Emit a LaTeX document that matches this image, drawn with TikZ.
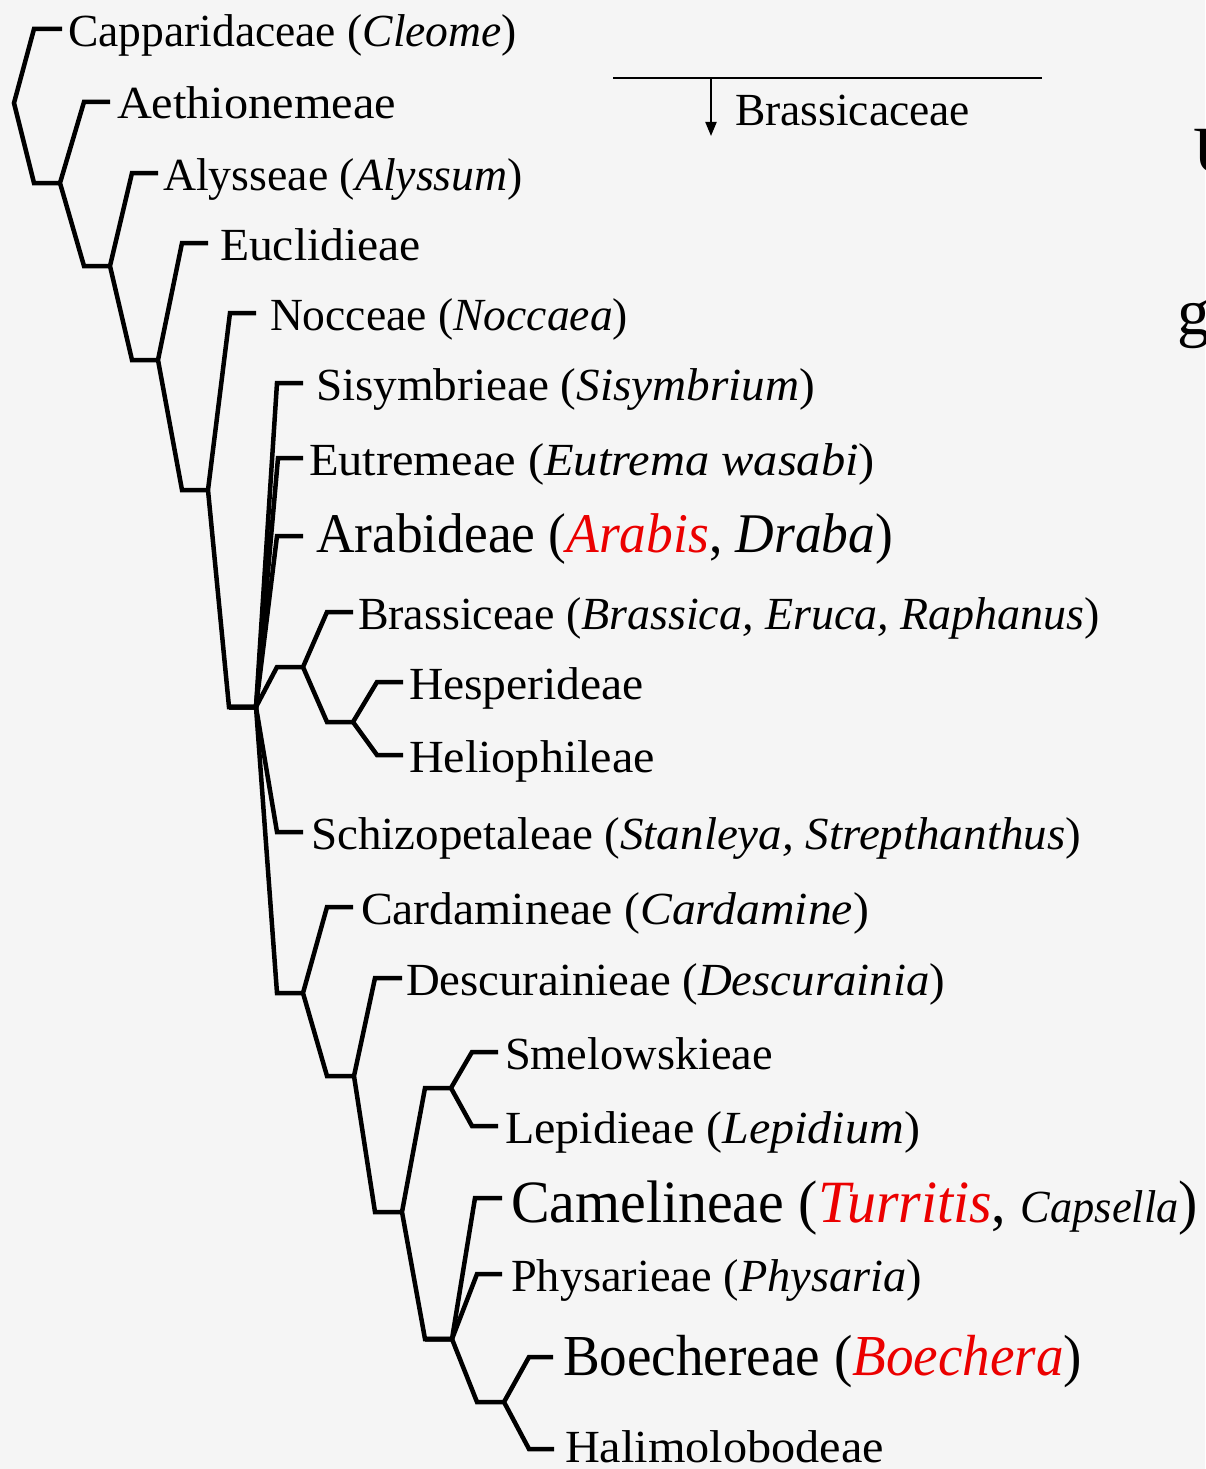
\documentclass[tikz,border=0pt]{standalone}
\usepackage{fontspec}
\setmainfont{Liberation Serif}
\usepackage{graphicx}
\usetikzlibrary{arrows.meta}
\definecolor{bg}{HTML}{F5F5F5}
\definecolor{tred}{RGB}{235,0,0}
\newsavebox\fitbox
\newlength\fitlen
\newcommand\fitw[2]{\sbox\fitbox{#2}\setlength\fitlen{\wd\fitbox}\pgfmathsetmacro\fitr{#1/\fitlen}\scalebox{\fitr}[1]{\usebox\fitbox}}
\newcommand\fs[1]{\fontsize{#1}{#1}\selectfont}
\begin{document}
\begin{tikzpicture}[x=1pt,y=-1pt,
 br/.style={line width=4.5pt,line join=miter},
 lab/.style={anchor=base west,inner sep=0pt,outer sep=0pt,font=\fs{46}},
 big/.style={font=\fs{#1}}]
\useasboundingbox[fill=bg] (0,0) rectangle (1205,1469);
\clip (0,0) rectangle (1205,1469);
% coordinates
\coordinate (r0) at (14,103);
\coordinate (c1) at (34,29); \coordinate (t1) at (62,29);
\coordinate (k1) at (34,183); \coordinate (n1) at (60,183);
\coordinate (c2) at (84,102); \coordinate (t2) at (110,102);
\coordinate (k2) at (84,266); \coordinate (n2) at (110,266);
\coordinate (c3) at (132,173); \coordinate (t3) at (158,173);
\coordinate (k3) at (132,360); \coordinate (n3) at (158,360);
\coordinate (c4) at (182,243); \coordinate (t4) at (208,243);
\coordinate (k4) at (182,490); \coordinate (n4) at (208,490);
\coordinate (c5) at (230,313); \coordinate (t5) at (256,313);
\coordinate (k5) at (229,707); \coordinate (n5) at (256,707);
\coordinate (c6) at (277,383); \coordinate (t6) at (303,383);
\coordinate (c7) at (278,458); \coordinate (t7) at (303,458);
\coordinate (c8) at (277,536); \coordinate (t8) at (303,536);
\coordinate (kB) at (277,667); \coordinate (nB) at (303,667);
\coordinate (c12) at (277,832); \coordinate (t12) at (303,832);
\coordinate (kC) at (277,993); \coordinate (nC) at (303,993);
\coordinate (c9) at (327,612); \coordinate (t9) at (353,612);
\coordinate (kH) at (327,722); \coordinate (nH) at (353,722);
\coordinate (c10) at (377,682); \coordinate (t10) at (403,682);
\coordinate (c11) at (377,755); \coordinate (t11) at (403,755);
\coordinate (c13) at (327,907); \coordinate (t13) at (353,907);
\coordinate (kD) at (327,1076); \coordinate (nD) at (354,1076);
\coordinate (c14) at (375,978); \coordinate (t14) at (402,978);
\coordinate (kE) at (375,1212); \coordinate (nE) at (402,1212);
\coordinate (kS) at (425,1088); \coordinate (nS) at (451,1088);
\coordinate (kF) at (425,1339); \coordinate (nF) at (452,1339);
\coordinate (c15) at (472,1052); \coordinate (t15) at (498,1052);
\coordinate (c16) at (472,1126); \coordinate (t16) at (498,1126);
\coordinate (c17) at (475,1198); \coordinate (t17) at (502,1198);
\coordinate (c18) at (477,1274); \coordinate (t18) at (502,1274);
\coordinate (kG) at (477,1402); \coordinate (nG) at (504,1402);
\coordinate (c19) at (529,1357); \coordinate (t19) at (553,1357);
\coordinate (c20) at (529,1449); \coordinate (t20) at (554,1449);
% branches
\draw[br] (t1)--(c1)--(r0)--(k1)--(n1);
\draw[br] (t2)--(c2)--(n1)--(k2)--(n2);
\draw[br] (t3)--(c3)--(n2)--(k3)--(n3);
\draw[br] (t4)--(c4)--(n3)--(k4)--(n4);
\draw[br] (t5)--(c5)--(n4)--(k5)--(n5);
\draw[br] (k5)--(n5)--(c6)--(t6);
\draw[br] (k5)--(n5)--(c7)--(t7);
\draw[br] (k5)--(n5)--(c8)--(t8);
\draw[br] (k5)--(n5)--(kB)--(nB);
\draw[br] (k5)--(n5)--(c12)--(t12);
\draw[br] (k5)--(n5)--(kC)--(nC);
\draw[br] (t9)--(c9)--(nB)--(kH)--(nH);
\draw[br] (t10)--(c10)--(nH)--(c11)--(t11);
\draw[br] (t13)--(c13)--(nC)--(kD)--(nD);
\draw[br] (t14)--(c14)--(nD)--(kE)--(nE);
\draw[br] (nS)--(kS)--(nE)--(kF)--(nF);
\draw[br] (t15)--(c15)--(nS)--(c16)--(t16);
\draw[br] (kF)--(nF)--(c17)--(t17);
\draw[br] (kF)--(nF)--(c18)--(t18);
\draw[br] (kF)--(nF)--(kG)--(nG);
\draw[br] (t19)--(c19)--(nG)--(c20)--(t20);
% labels
\node[lab] (L1) at (68,47) {\fitw{449}{Capparidaceae (\textit{Cleome})}};
\node[lab] (L2) at (117,119) {\fitw{279}{Aethionemeae}};
\node[lab] (L3) at (163,190) {\fitw{360}{Alysseae (\textit{Alyssum})}};
\node[lab] (L4) at (220,260) {\fitw{201}{Euclidieae}};
\node[lab] (L5) at (270,330) {\fitw{358}{Nocceae (\textit{Noccaea})}};
\node[lab] (L6) at (316,400) {\fitw{499}{Sisymbrieae (\textit{Sisymbrium})}};
\node[lab] (L7) at (309,475) {\fitw{566}{Eutremeae (\textit{Eutrema wasabi})}};
\node[lab,big=56] (L8) at (316,552) {\fitw{577}{Arabideae (\textcolor{tred}{\textit{Arabis}}, \textit{Draba})}};
\node[lab] (L9) at (358,629) {\fitw{742}{Brassiceae (\textit{Brassica, Eruca, Raphanus})}};
\node[lab] (L10) at (409,699) {\fitw{235}{Hesperideae}};
\node[lab] (L11) at (409,772) {\fitw{246}{Heliophileae}};
\node[lab] (L12) at (311,849) {\fitw{770}{Schizopetaleae (\textit{Stanleya, Strepthanthus})}};
\node[lab] (L13) at (361,924) {\fitw{508}{Cardamineae (\textit{Cardamine})}};
\node[lab] (L14) at (406,995) {\fitw{539}{Descurainieae (\textit{Descurainia})}};
\node[lab] (L15) at (505,1069) {\fitw{268}{Smelowskieae}};
\node[lab] (L16) at (505,1143) {\fitw{415}{Lepidieae (\textit{Lepidium})}};
\node[lab,big=60] (L17) at (511,1222) {\fitw{687}{Camelineae (\textcolor{tred}{\textit{Turritis}}, {\fs{46}\textit{Capsella}})}};
\node[lab] (L18) at (511,1291) {\fitw{411}{Physarieae (\textit{Physaria})}};
\node[lab,big=58] (L19) at (563,1375) {\fitw{519}{Boechereae (\textcolor{tred}{\textit{Boechera}})}};
\node[lab] (L20) at (565,1462) {\fitw{319}{Halimolobodeae}};
% Brassicaceae marker
\coordinate (bl) at (613,78); \coordinate (bx) at (1042,78);
\coordinate (ba) at (711,78); \coordinate (bb) at (711,136);
\draw[line width=2pt] (bl)--(bx);
\draw[line width=2pt,-{Triangle[width=11pt,length=14pt]}] (ba)--(bb);
\node[lab] (Lb) at (735,125) {\fitw{235}{Brassicaceae}};
% clipped text at right edge
\node[lab,big=66] (U) at (1193,172) {U};
\node[lab,big=66] (G) at (1177,334) {g};
\end{tikzpicture}
\end{document}
